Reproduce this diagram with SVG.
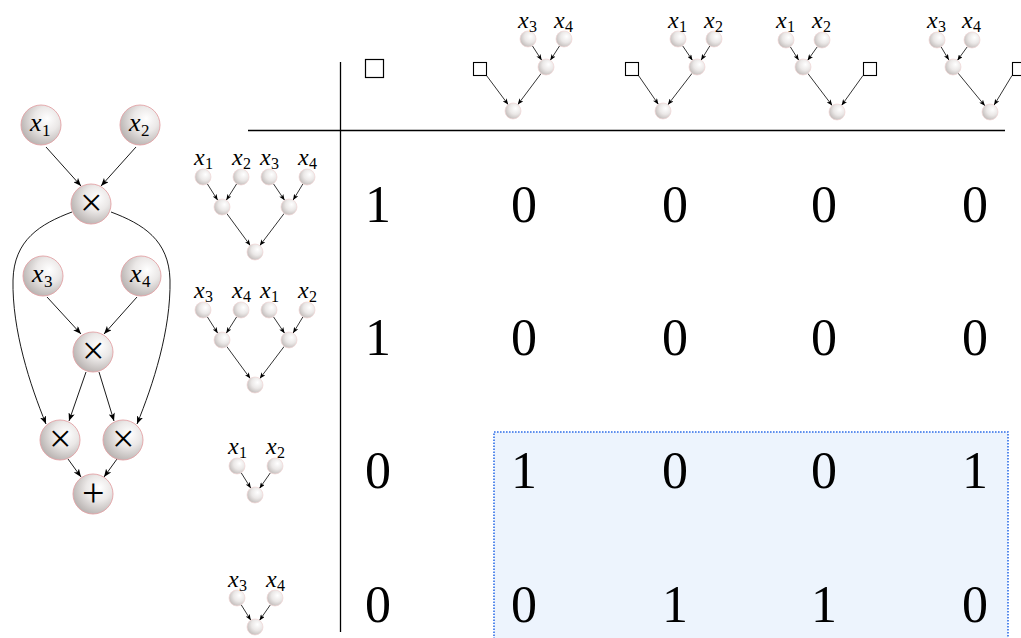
<svg xmlns="http://www.w3.org/2000/svg" width="1021" height="638" viewBox="0 0 1021 638">
<defs>
<radialGradient id="gBig" cx="0.62" cy="0.38" r="0.7" fx="0.66" fy="0.34">
<stop offset="0" stop-color="#ffffff"/>
<stop offset="0.45" stop-color="#ebe8e7"/>
<stop offset="1" stop-color="#b3adab"/>
</radialGradient>
<radialGradient id="gSmall" cx="0.62" cy="0.38" r="0.7" fx="0.66" fy="0.34">
<stop offset="0" stop-color="#ffffff"/>
<stop offset="0.5" stop-color="#ebe8e7"/>
<stop offset="1" stop-color="#bdb7b5"/>
</radialGradient>
<marker id="aBig" viewBox="0 0 10 8" refX="10" refY="4" markerWidth="8" markerHeight="6.4" markerUnits="userSpaceOnUse" orient="auto">
<path d="M0,0 L10,4 L0,8 L2.5,4 z" fill="#000"/>
</marker>
<marker id="aSm" viewBox="0 0 10 8" refX="10" refY="4" markerWidth="6" markerHeight="4.8" markerUnits="userSpaceOnUse" orient="auto">
<path d="M0,0 L10,4 L0,8 L2.5,4 z" fill="#000"/>
</marker>
<circle id="bigNode" r="20" fill="url(#gBig)" stroke="#e3a3a6" stroke-width="0.9"/>
<circle id="smNode" r="8" fill="url(#gSmall)" stroke="#f1d6d6" stroke-width="0.7"/>
</defs>

<rect id="highlight" x="494" y="432" width="514" height="212" fill="#edf4fd" stroke="#2f6ee8" stroke-width="1.6" stroke-dasharray="1.6 1.4"/>

<g id="table-rules" stroke="#000" stroke-width="1.3">
<line x1="340.5" y1="62" x2="340.5" y2="632"/>
<line x1="248" y1="130.5" x2="1005" y2="130.5"/>
</g>

<g id="connectors" stroke="#000" fill="none">
<g stroke-width="0.9" marker-end="url(#aBig)">
<line x1="46" y1="147" x2="81" y2="186"/>
<line x1="136" y1="147" x2="101" y2="186"/>
<path d="M72,212 C40,224 14,240 13,280 C12,330 30,385 46,424"/>
<path d="M111,212 C143,224 169,240 170,280 C171,330 153,385 137,424"/>
<line x1="47" y1="297" x2="81" y2="334"/>
<line x1="137" y1="297" x2="104" y2="334"/>
<line x1="86" y1="372" x2="69" y2="421"/>
<line x1="99" y1="372" x2="114" y2="421"/>
<line x1="68" y1="459" x2="81" y2="477"/>
<line x1="117" y1="459" x2="104" y2="477"/>
</g>
<g stroke-width="0.8" marker-end="url(#aSm)">
<line x1="532.3" y1="45.7" x2="541.7" y2="60.3"/>
<line x1="559.7" y1="45.7" x2="550.3" y2="60.3"/>
<line x1="541.2" y1="73.4" x2="517.8" y2="104.6"/>
<line x1="486.5" y1="75.5" x2="508.2" y2="104.6"/>
<line x1="682.5" y1="45.6" x2="692.5" y2="60.4"/>
<line x1="709.9" y1="45.8" x2="701.1" y2="60.2"/>
<line x1="692.1" y1="73.3" x2="667.9" y2="104.7"/>
<line x1="638.5" y1="75.5" x2="658.4" y2="104.4"/>
<line x1="790.3" y1="46.8" x2="798.7" y2="60.2"/>
<line x1="817.4" y1="46.6" x2="807.6" y2="60.4"/>
<line x1="807.8" y1="73.4" x2="832.2" y2="105.6"/>
<line x1="863" y1="75.5" x2="841.6" y2="105.4"/>
<line x1="941.1" y1="46.9" x2="948.9" y2="60.1"/>
<line x1="967.4" y1="46.6" x2="957.4" y2="60.4"/>
<line x1="958.1" y1="73.2" x2="984.9" y2="105.8"/>
<line x1="1012" y1="75.5" x2="994.1" y2="105.1"/>
<line x1="207.3" y1="183.8" x2="217.7" y2="200.2"/>
<line x1="236.7" y1="183.8" x2="226.3" y2="200.2"/>
<line x1="273.4" y1="183.7" x2="284.6" y2="200.3"/>
<line x1="302.9" y1="183.9" x2="293.1" y2="200.1"/>
<line x1="226.7" y1="213.4" x2="250.3" y2="245.6"/>
<line x1="284.2" y1="213.4" x2="259.8" y2="245.6"/>
<line x1="207.3" y1="316.8" x2="217.7" y2="333.2"/>
<line x1="236.7" y1="316.8" x2="226.3" y2="333.2"/>
<line x1="273.4" y1="316.7" x2="284.6" y2="333.3"/>
<line x1="302.9" y1="316.9" x2="293.1" y2="333.1"/>
<line x1="226.7" y1="346.4" x2="250.3" y2="378.6"/>
<line x1="284.2" y1="346.4" x2="259.8" y2="378.6"/>
<line x1="241.2" y1="472.8" x2="250.8" y2="488.2"/>
<line x1="270.5" y1="472.6" x2="259.5" y2="488.4"/>
<line x1="241.2" y1="604.8" x2="250.8" y2="620.2"/>
<line x1="270.5" y1="604.6" x2="259.5" y2="620.4"/>
</g>
</g>

<g id="left-graph">
<g id="node-x1"><use href="#bigNode" x="41" y="125"/><text x="30" y="131" font-family="Liberation Serif" font-size="26" font-style="italic">x</text><text x="42" y="136" font-family="Liberation Serif" font-size="17">1</text></g>
<g id="node-x2"><use href="#bigNode" x="140" y="125"/><text x="129" y="131" font-family="Liberation Serif" font-size="26" font-style="italic">x</text><text x="141" y="136" font-family="Liberation Serif" font-size="17">2</text></g>
<g id="node-mul1"><use href="#bigNode" x="91" y="204"/><text x="80" y="216" font-family="Liberation Serif" font-size="40">×</text></g>
<g id="node-x3"><use href="#bigNode" x="43" y="276"/><text x="32" y="282" font-family="Liberation Serif" font-size="26" font-style="italic">x</text><text x="44" y="287" font-family="Liberation Serif" font-size="17">3</text></g>
<g id="node-x4"><use href="#bigNode" x="141" y="276"/><text x="130" y="282" font-family="Liberation Serif" font-size="26" font-style="italic">x</text><text x="142" y="287" font-family="Liberation Serif" font-size="17">4</text></g>
<g id="node-mul2"><use href="#bigNode" x="93" y="352"/><text x="82" y="364" font-family="Liberation Serif" font-size="40">×</text></g>
<g id="node-mul3"><use href="#bigNode" x="60" y="440"/><text x="49" y="452" font-family="Liberation Serif" font-size="40">×</text></g>
<g id="node-mul4"><use href="#bigNode" x="123" y="440"/><text x="112" y="452" font-family="Liberation Serif" font-size="40">×</text></g>
<g id="node-plus"><use href="#bigNode" x="93" y="494"/><text x="82" y="506" font-family="Liberation Serif" font-size="40">+</text></g>
</g>

<g id="headers">
<g id="header-col0"><rect x="365.5" y="59.5" width="18" height="18" fill="#fff" stroke="#000" stroke-width="1.2"/></g>
<g id="header-col1">
<rect x="473.5" y="62.5" width="13" height="13" fill="#fff" stroke="#000" stroke-width="1.1"/>
<use href="#smNode" x="528" y="39"/><use href="#smNode" x="564" y="39"/>
<use href="#smNode" x="546" y="67"/><use href="#smNode" x="513" y="111"/>
<text x="518" y="28" font-family="Liberation Serif" font-size="24" font-style="italic">x</text><text x="529" y="32" font-family="Liberation Serif" font-size="16">3</text>
<text x="554" y="28" font-family="Liberation Serif" font-size="24" font-style="italic">x</text><text x="565" y="32" font-family="Liberation Serif" font-size="16">4</text>
</g>
<g id="header-col2">
<rect x="625.5" y="62.5" width="13" height="13" fill="#fff" stroke="#000" stroke-width="1.1"/>
<use href="#smNode" x="678" y="39"/><use href="#smNode" x="714" y="39"/>
<use href="#smNode" x="697" y="67"/><use href="#smNode" x="663" y="111"/>
<text x="668" y="28" font-family="Liberation Serif" font-size="24" font-style="italic">x</text><text x="679" y="32" font-family="Liberation Serif" font-size="16">1</text>
<text x="704" y="28" font-family="Liberation Serif" font-size="24" font-style="italic">x</text><text x="715" y="32" font-family="Liberation Serif" font-size="16">2</text>
</g>
<g id="header-col3">
<rect x="863.5" y="62.5" width="13" height="13" fill="#fff" stroke="#000" stroke-width="1.1"/>
<use href="#smNode" x="786" y="40"/><use href="#smNode" x="822" y="40"/>
<use href="#smNode" x="803" y="67"/><use href="#smNode" x="837" y="112"/>
<text x="776" y="28" font-family="Liberation Serif" font-size="24" font-style="italic">x</text><text x="787" y="32" font-family="Liberation Serif" font-size="16">1</text>
<text x="812" y="28" font-family="Liberation Serif" font-size="24" font-style="italic">x</text><text x="823" y="32" font-family="Liberation Serif" font-size="16">2</text>
</g>
<g id="header-col4">
<rect x="1012.5" y="62.5" width="13" height="13" fill="#fff" stroke="#000" stroke-width="1.1"/>
<use href="#smNode" x="937" y="40"/><use href="#smNode" x="972" y="40"/>
<use href="#smNode" x="953" y="67"/><use href="#smNode" x="990" y="112"/>
<text x="927" y="28" font-family="Liberation Serif" font-size="24" font-style="italic">x</text><text x="938" y="32" font-family="Liberation Serif" font-size="16">3</text>
<text x="962" y="28" font-family="Liberation Serif" font-size="24" font-style="italic">x</text><text x="973" y="32" font-family="Liberation Serif" font-size="16">4</text>
</g>

<g id="row1-tree">
<use href="#smNode" x="203" y="177"/><use href="#smNode" x="241" y="177"/>
<use href="#smNode" x="269" y="177"/><use href="#smNode" x="307" y="177"/>
<use href="#smNode" x="222" y="207"/><use href="#smNode" x="289" y="207"/>
<use href="#smNode" x="255" y="252"/>
<text x="194" y="165" font-family="Liberation Serif" font-size="24" font-style="italic">x</text><text x="205" y="169" font-family="Liberation Serif" font-size="16">1</text>
<text x="232" y="165" font-family="Liberation Serif" font-size="24" font-style="italic">x</text><text x="243" y="169" font-family="Liberation Serif" font-size="16">2</text>
<text x="260" y="165" font-family="Liberation Serif" font-size="24" font-style="italic">x</text><text x="271" y="169" font-family="Liberation Serif" font-size="16">3</text>
<text x="298" y="165" font-family="Liberation Serif" font-size="24" font-style="italic">x</text><text x="309" y="169" font-family="Liberation Serif" font-size="16">4</text>
</g>
<g id="row2-tree">
<use href="#smNode" x="203" y="310"/><use href="#smNode" x="241" y="310"/>
<use href="#smNode" x="269" y="310"/><use href="#smNode" x="307" y="310"/>
<use href="#smNode" x="222" y="340"/><use href="#smNode" x="289" y="340"/>
<use href="#smNode" x="255" y="385"/>
<text x="194" y="298" font-family="Liberation Serif" font-size="24" font-style="italic">x</text><text x="205" y="302" font-family="Liberation Serif" font-size="16">3</text>
<text x="232" y="298" font-family="Liberation Serif" font-size="24" font-style="italic">x</text><text x="243" y="302" font-family="Liberation Serif" font-size="16">4</text>
<text x="260" y="298" font-family="Liberation Serif" font-size="24" font-style="italic">x</text><text x="271" y="302" font-family="Liberation Serif" font-size="16">1</text>
<text x="298" y="298" font-family="Liberation Serif" font-size="24" font-style="italic">x</text><text x="309" y="302" font-family="Liberation Serif" font-size="16">2</text>
</g>
<g id="row3-tree">
<use href="#smNode" x="237" y="466"/><use href="#smNode" x="275" y="466"/>
<use href="#smNode" x="255" y="495"/>
<text x="228" y="454" font-family="Liberation Serif" font-size="24" font-style="italic">x</text><text x="239" y="458" font-family="Liberation Serif" font-size="16">1</text>
<text x="266" y="454" font-family="Liberation Serif" font-size="24" font-style="italic">x</text><text x="277" y="458" font-family="Liberation Serif" font-size="16">2</text>
</g>
<g id="row4-tree">
<use href="#smNode" x="237" y="598"/><use href="#smNode" x="275" y="598"/>
<use href="#smNode" x="255" y="627"/>
<text x="228" y="587" font-family="Liberation Serif" font-size="24" font-style="italic">x</text><text x="239" y="591" font-family="Liberation Serif" font-size="16">3</text>
<text x="266" y="587" font-family="Liberation Serif" font-size="24" font-style="italic">x</text><text x="277" y="591" font-family="Liberation Serif" font-size="16">4</text>
</g>
</g>

<g id="values">
<text x="365" y="222" font-family="Liberation Serif" font-size="52">1</text><text x="511" y="222" font-family="Liberation Serif" font-size="52">0</text><text x="662" y="222" font-family="Liberation Serif" font-size="52">0</text><text x="811" y="222" font-family="Liberation Serif" font-size="52">0</text><text x="962" y="222" font-family="Liberation Serif" font-size="52">0</text>
<text x="365" y="355" font-family="Liberation Serif" font-size="52">1</text><text x="511" y="355" font-family="Liberation Serif" font-size="52">0</text><text x="662" y="355" font-family="Liberation Serif" font-size="52">0</text><text x="811" y="355" font-family="Liberation Serif" font-size="52">0</text><text x="962" y="355" font-family="Liberation Serif" font-size="52">0</text>
<text x="365" y="488" font-family="Liberation Serif" font-size="52">0</text><text x="511" y="488" font-family="Liberation Serif" font-size="52">1</text><text x="662" y="488" font-family="Liberation Serif" font-size="52">0</text><text x="811" y="488" font-family="Liberation Serif" font-size="52">0</text><text x="962" y="488" font-family="Liberation Serif" font-size="52">1</text>
<text x="365" y="622" font-family="Liberation Serif" font-size="52">0</text><text x="511" y="622" font-family="Liberation Serif" font-size="52">0</text><text x="662" y="622" font-family="Liberation Serif" font-size="52">1</text><text x="811" y="622" font-family="Liberation Serif" font-size="52">1</text><text x="962" y="622" font-family="Liberation Serif" font-size="52">0</text>
</g>
</svg>
